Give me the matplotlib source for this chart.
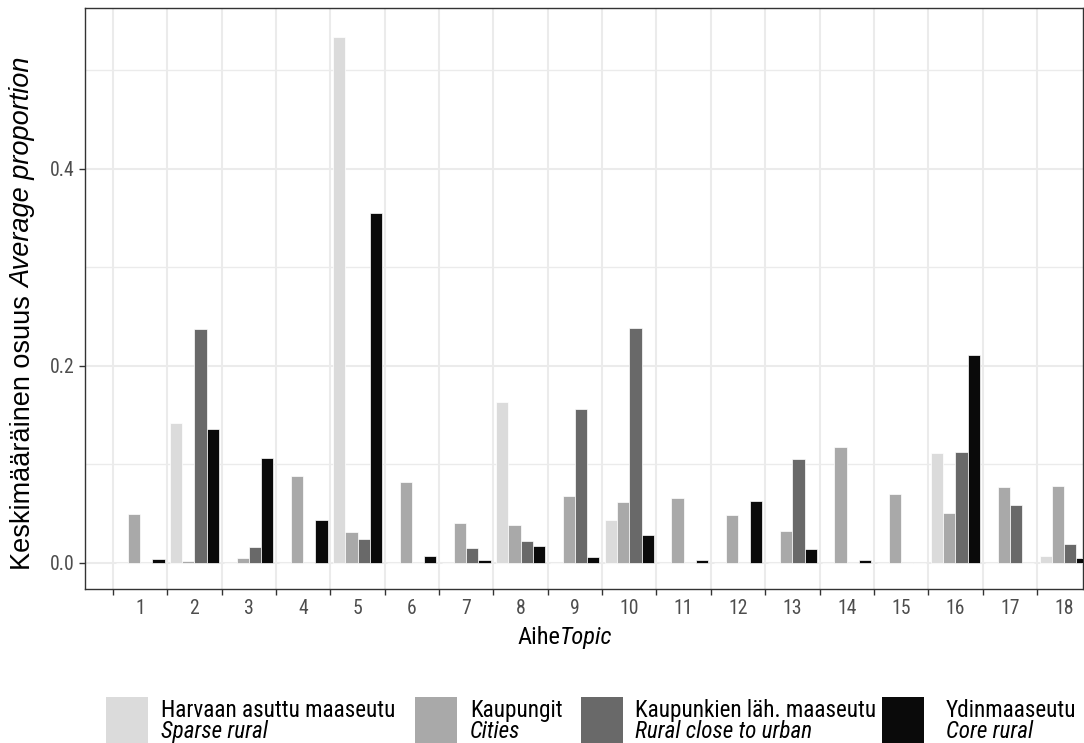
import numpy as np
import matplotlib
matplotlib.use("Agg")
import matplotlib.pyplot as plt
from matplotlib import font_manager
from matplotlib.patches import Rectangle
from matplotlib.transforms import IdentityTransform

plt.rcParams['font.family'] = ['Liberation Sans', 'DejaVu Sans']


def first_available(names):
    for name in names:
        try:
            font_manager.findfont(font_manager.FontProperties(family=name),
                                  fallback_to_default=False)
            return name
        except Exception:
            continue
    return None


narrow_name = first_available(['Liberation Sans Narrow', 'Arial Narrow',
                               'Roboto Condensed'])
TEXT_FAMILY = [narrow_name or 'Liberation Sans', 'DejaVu Sans']

# ---- data -------------------------------------------------------------
topics = [str(i) for i in range(1, 19)]

sparse_rural = [0, 0.142, 0, 0, 0.534, 0, 0, 0.163, 0, 0.043,
                0, 0, 0, 0, 0, 0.111, 0, 0.0066]
cities = [0.049, 0.0017, 0.0044, 0.088, 0.031, 0.082, 0.040, 0.038, 0.0675, 0.061,
          0.066, 0.048, 0.032, 0.117, 0.070, 0.0506, 0.077, 0.0777]
rural_close = [0, 0.237, 0.016, 0, 0.0236, 0, 0.0145, 0.0215, 0.1555, 0.238,
               0, 0, 0.1046, 0, 0, 0.112, 0.0584, 0.0185]
core_rural = [0.0034, 0.136, 0.106, 0.0436, 0.3545, 0.007, 0.003, 0.0168, 0.0056, 0.028,
              0.003, 0.062, 0.0142, 0.0025, 0, 0.2107, 0, 0.0042]

series_fi = ["Harvaan asuttu maaseutu", "Kaupungit",
             "Kaupunkien läh. maaseutu", "Ydinmaaseutu"]
series_en = ["Sparse rural", "Cities", "Rural close to urban", "Core rural"]
y_ticks = [0.0, 0.2, 0.4]
y_tick_labels = ["0.0", "0.2", "0.4"]

# ---- styling ------------------------------------------------------------
W, H = 1084, 743
fills = ["#DBDBDB", "#A9A9A9", "#696969", "#0A0A0A"]
grid_col = "#EBEBEB"
frame_col = "#333333"
tick_text_col = "#4D4D4D"

fig = plt.figure(figsize=(W / 100, H / 100), dpi=100)
fig.patch.set_facecolor("white")
renderer = fig.canvas.get_renderer()
ident = IdentityTransform()


def fit_size(text, target_px, style="normal", family=TEXT_FAMILY):
    """Font size (pt) at which `text` is `target_px` pixels wide."""
    probe = fig.text(0, 0, text, fontsize=20, style=style, family=family)
    w = probe.get_window_extent(renderer).width
    probe.remove()
    return 20 * target_px / w


tick_size = fit_size("10", 19.5)
legend_size = fit_size("Harvaan asuttu maaseutu", 233)
xtitle_size = fit_size("AiheTopic", 97)

# panel placement in pixels (left, right, top, bottom)
pl, pr, pt, pb = 85, 1083, 8, 589
ax = fig.add_axes([pl / W, 1 - pb / H, (pr - pl) / W, (pb - pt) / H])

x = np.arange(1, len(topics) + 1)
values = [sparse_rural, cities, rural_close, core_rural]
bw = 0.225
offsets = (np.arange(4) - 1.5) * bw
for vals, off, col in zip(values, offsets, fills):
    ax.bar(x + off, vals, width=bw, color=col, edgecolor="white",
           linewidth=0.5, zorder=3)

# x pixel = 85.8 + 54.35 * x
ax.set_xlim((pl - 85.8) / 54.35, (pr - 85.8) / 54.35)
ax.set_ylim(-0.0269, 0.563)

# grid
for yv in [0.0, 0.2, 0.4]:
    ax.axhline(yv, color=grid_col, lw=1.5, zorder=0)
for yv in [0.1, 0.3, 0.5]:
    ax.axhline(yv, color=grid_col, lw=1.0, zorder=0)
bounds = np.arange(0.5, len(topics), 1.0)
for xv in bounds:
    ax.axvline(xv, color=grid_col, lw=1.5, zorder=0)

# ticks
ax.set_xticks(bounds)
ax.set_xticklabels([])
ax.set_xticks(x, minor=True)
ax.set_xticklabels(topics, minor=True, family=TEXT_FAMILY)
ax.tick_params(axis="x", which="major", length=4, width=1.0, color=frame_col,
               direction="out")
ax.tick_params(axis="x", which="minor", length=0, pad=7, labelsize=tick_size,
               labelcolor=tick_text_col)
ax.set_yticks(y_ticks)
ax.set_yticklabels(y_tick_labels, family=TEXT_FAMILY)
ax.tick_params(axis="y", length=4, width=1.0, color=frame_col, pad=3.5,
               labelsize=tick_size, labelcolor=tick_text_col)

for sp in ax.spines.values():
    sp.set_color(frame_col)
    sp.set_linewidth(1.0)


# ---- titles made of a plain and an italic part --------------------------
def run_text(x0, y0, parts, size, family, rotation=0):
    """Place consecutive text pieces (string, style) along one baseline.
    Coordinates are pixels from the top-left corner."""
    cx, cy = x0, H - y0
    for s, style in parts:
        t = fig.text(cx, cy, s, fontsize=size, style=style, color="black",
                     family=family, rotation=rotation, rotation_mode="anchor",
                     ha="left", va="baseline", transform=ident)
        ext = t.get_window_extent(renderer)
        if rotation == 0:
            cx += ext.width
        else:
            cy += ext.height


run_text(517, 644, [("Aihe", "normal"), ("Topic", "italic")], xtitle_size,
         TEXT_FAMILY)
run_text(30, 570, [("Keskimääräinen osuus ", "normal"),
                   ("Average proportion", "italic")], 19.5,
         ['Liberation Sans', 'DejaVu Sans'], rotation=90)

# ---- legend ---------------------------------------------------------------
key_x = [106, 415, 581, 882]
text_x = [161, 470, 635, 946]
key_w, key_top, key_h = 42, 697, 46
for kx, tx, col, fi, en in zip(key_x, text_x, fills, series_fi, series_en):
    fig.add_artist(Rectangle((kx / W, 1 - (key_top + key_h) / H), key_w / W,
                             key_h / H, transform=fig.transFigure,
                             facecolor=col, edgecolor="none"))
    fig.text(tx / W, 1 - 717 / H, fi, fontsize=legend_size, color="black",
             family=TEXT_FAMILY, ha="left", va="baseline")
    fig.text(tx / W, 1 - 738 / H, en, fontsize=legend_size, style="italic",
             family=TEXT_FAMILY, color="black", ha="left", va="baseline")

fig.savefig("out.png", dpi=100, facecolor="white")
